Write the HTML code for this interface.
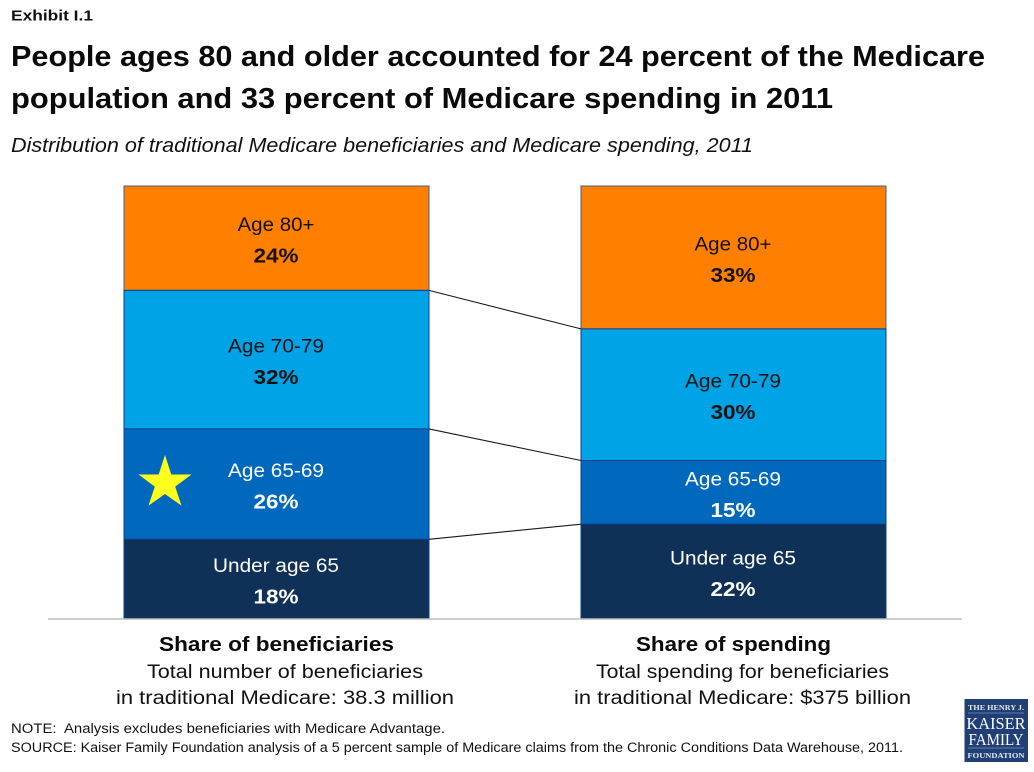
<!DOCTYPE html>
<html lang="en">
<head>
<meta charset="utf-8">
<title>Exhibit I.1</title>
<style>
html,body{margin:0;padding:0;background:#fff;}
body{width:1034px;height:772px;overflow:hidden;}
svg{display:block;font-family:"Liberation Sans",sans-serif;}
</style>
</head>
<body>
<svg id="chart" width="1034" height="772" viewBox="0 0 1034 772" xmlns="http://www.w3.org/2000/svg">
  <rect x="0" y="0" width="1034" height="772" fill="#ffffff"/>
  <text x="11" y="20.5" font-size="15" font-weight="700" fill="#111" textLength="82" lengthAdjust="spacingAndGlyphs">Exhibit I.1</text>
  <text x="11" y="66" font-size="28.5" font-weight="700" fill="#0a0a0a" textLength="974" lengthAdjust="spacingAndGlyphs">People ages 80 and older accounted for 24 percent of the Medicare</text>
  <text x="11" y="108" font-size="28.5" font-weight="700" fill="#0a0a0a" textLength="822" lengthAdjust="spacingAndGlyphs">population and 33 percent of Medicare spending in 2011</text>
  <text x="11" y="152" font-size="20" font-style="italic" fill="#111" textLength="742" lengthAdjust="spacingAndGlyphs">Distribution of traditional Medicare beneficiaries and Medicare spending, 2011</text>

  <g id="marks"></g>

  <line x1="48" y1="619" x2="962" y2="619" stroke="#bdbdbd" stroke-width="1.6"/>

  <polygon points="165,455 171.3,474.5 191.5,474.5 175.2,486.6 181.5,505.6 165,494 148.5,505.6 154.8,486.6 138.5,474.5 158.7,474.5" fill="#ffff1e"/>

  <text x="159" y="651" font-size="20" font-weight="700" fill="#0a0a0a" textLength="235" lengthAdjust="spacingAndGlyphs">Share of beneficiaries</text>
  <text x="147" y="678" font-size="19" fill="#111" textLength="276" lengthAdjust="spacingAndGlyphs">Total number of beneficiaries</text>
  <text x="116" y="704" font-size="19" fill="#111" textLength="338" lengthAdjust="spacingAndGlyphs">in traditional Medicare: 38.3 million</text>
  <text x="636" y="651" font-size="20" font-weight="700" fill="#0a0a0a" textLength="195" lengthAdjust="spacingAndGlyphs">Share of spending</text>
  <text x="596" y="678" font-size="19" fill="#111" textLength="293" lengthAdjust="spacingAndGlyphs">Total spending for beneficiaries</text>
  <text x="574" y="704" font-size="19" fill="#111" textLength="337" lengthAdjust="spacingAndGlyphs">in traditional Medicare: $375 billion</text>

  <text x="11" y="733" font-size="13.5" fill="#111" textLength="434" lengthAdjust="spacingAndGlyphs">NOTE:&#160; Analysis excludes beneficiaries with Medicare Advantage.</text>
  <text x="11" y="752" font-size="13.5" fill="#111" textLength="892" lengthAdjust="spacingAndGlyphs">SOURCE: Kaiser Family Foundation analysis of a 5 percent sample of Medicare claims from the Chronic Conditions Data Warehouse, 2011.</text>

  <g>
    <rect x="964.5" y="699" width="63.5" height="63" fill="#1f3f76"/>
    <text x="996" y="710" text-anchor="middle" font-family="Liberation Serif, serif" font-size="7" font-weight="700" fill="#e6ebf3" textLength="56" lengthAdjust="spacingAndGlyphs">THE HENRY J.</text>
    <line x1="968" y1="713" x2="1024" y2="713" stroke="#a9b7d0" stroke-width="0.6"/>
    <text x="996" y="729" text-anchor="middle" font-family="Liberation Serif, serif" font-size="17" fill="#ffffff" textLength="59" lengthAdjust="spacingAndGlyphs">KAISER</text>
    <text x="996" y="745" text-anchor="middle" font-family="Liberation Serif, serif" font-size="17" fill="#ffffff" textLength="55" lengthAdjust="spacingAndGlyphs">FAMILY</text>
    <line x1="968" y1="748" x2="1024" y2="748" stroke="#a9b7d0" stroke-width="0.6"/>
    <text x="996" y="758" text-anchor="middle" font-family="Liberation Serif, serif" font-size="7.5" font-weight="700" fill="#e6ebf3" textLength="57" lengthAdjust="spacingAndGlyphs">FOUNDATION</text>
  </g>
</svg>
<script>
// Chart data, top segment first
var categories = ['Age 80+', 'Age 70-79', 'Age 65-69', 'Under age 65'];
var categoryKeys = ['age-80-plus', 'age-70-79', 'age-65-69', 'under-age-65'];
var beneficiaryShares = [24.1, 32, 25.5, 18.4];
var spendingShares = [33, 30.4, 14.7, 21.9];
var beneficiaryLabels = ['24%', '32%', '26%', '18%'];
var spendingLabels = ['33%', '30%', '15%', '22%'];
var segmentColors = ['#ff7f00', '#00a3e6', '#0068bd', '#0f3057'];
var segmentTextColors = ['#111111', '#111111', '#ffffff', '#ffffff'];

var SVG_NS = 'http://www.w3.org/2000/svg';
var marks = document.getElementById('marks');
var plotTop = 186, plotBottom = 619;
var barWidth = 305;
var leftBarX = 124, rightBarX = 581;

function yScale(cumulativeShare, total) {
  return plotTop + (plotBottom - plotTop) * cumulativeShare / total;
}
function labelWidth(text) {
  if (text === 'Under age 65') return 126;
  if (text === 'Age 80+') return 77;
  return 96;
}
function sum(arr) {
  return arr.reduce(function (a, b) { return a + b; }, 0);
}
function boundaries(shares) {
  var total = sum(shares), run = 0, out = [];
  shares.forEach(function (s) {
    run += s;
    out.push(yScale(run, total));
  });
  return out;
}

function drawColumn(prefix, x, shares, labels) {
  var bottoms = boundaries(shares);
  shares.forEach(function (s, i) {
    var y0 = i === 0 ? plotTop : bottoms[i - 1];
    var y1 = bottoms[i];
    var rect = document.createElementNS(SVG_NS, 'rect');
    
    
    rect.setAttribute('x', x);
    rect.setAttribute('y', y0);
    rect.setAttribute('width', barWidth);
    rect.setAttribute('height', y1 - y0);
    rect.setAttribute('fill', segmentColors[i]);
    rect.setAttribute('stroke', i === 0 ? '#3f5f8f' : '#0b3f8f');
    rect.setAttribute('stroke-width', '1');
    marks.appendChild(rect);

    var cx = x + barWidth / 2 - 0.5;
    var cy = (y0 + y1) / 2;

    var name = document.createElementNS(SVG_NS, 'text');
    
    
    name.setAttribute('x', cx);
    name.setAttribute('y', cy - 7);
    name.setAttribute('text-anchor', 'middle');
    name.setAttribute('font-size', '19');
    name.setAttribute('fill', segmentTextColors[i]);
    name.setAttribute('textLength', labelWidth(categories[i]));
    name.setAttribute('lengthAdjust', 'spacingAndGlyphs');
    name.textContent = categories[i];
    marks.appendChild(name);

    var val = document.createElementNS(SVG_NS, 'text');
    
    
    val.setAttribute('x', cx);
    val.setAttribute('y', cy + 24.5);
    val.setAttribute('text-anchor', 'middle');
    val.setAttribute('font-size', '20');
    val.setAttribute('font-weight', '700');
    val.setAttribute('fill', segmentTextColors[i]);
    val.setAttribute('textLength', '45');
    val.setAttribute('lengthAdjust', 'spacingAndGlyphs');
    val.textContent = labels[i];
    marks.appendChild(val);
  });
}

drawColumn('beneficiaries', leftBarX, beneficiaryShares, beneficiaryLabels);
drawColumn('spending', rightBarX, spendingShares, spendingLabels);

var leftBottoms = boundaries(beneficiaryShares);
var rightBottoms = boundaries(spendingShares);
for (var i = 0; i < categories.length - 1; i++) {
  var connector = document.createElementNS(SVG_NS, 'line');
  
  
  connector.setAttribute('x1', leftBarX + barWidth);
  connector.setAttribute('y1', leftBottoms[i]);
  connector.setAttribute('x2', rightBarX);
  connector.setAttribute('y2', rightBottoms[i]);
  connector.setAttribute('stroke', '#1a1a1a');
  connector.setAttribute('stroke-width', '1.1');
  marks.appendChild(connector);
}
</script>
</body>
</html>
